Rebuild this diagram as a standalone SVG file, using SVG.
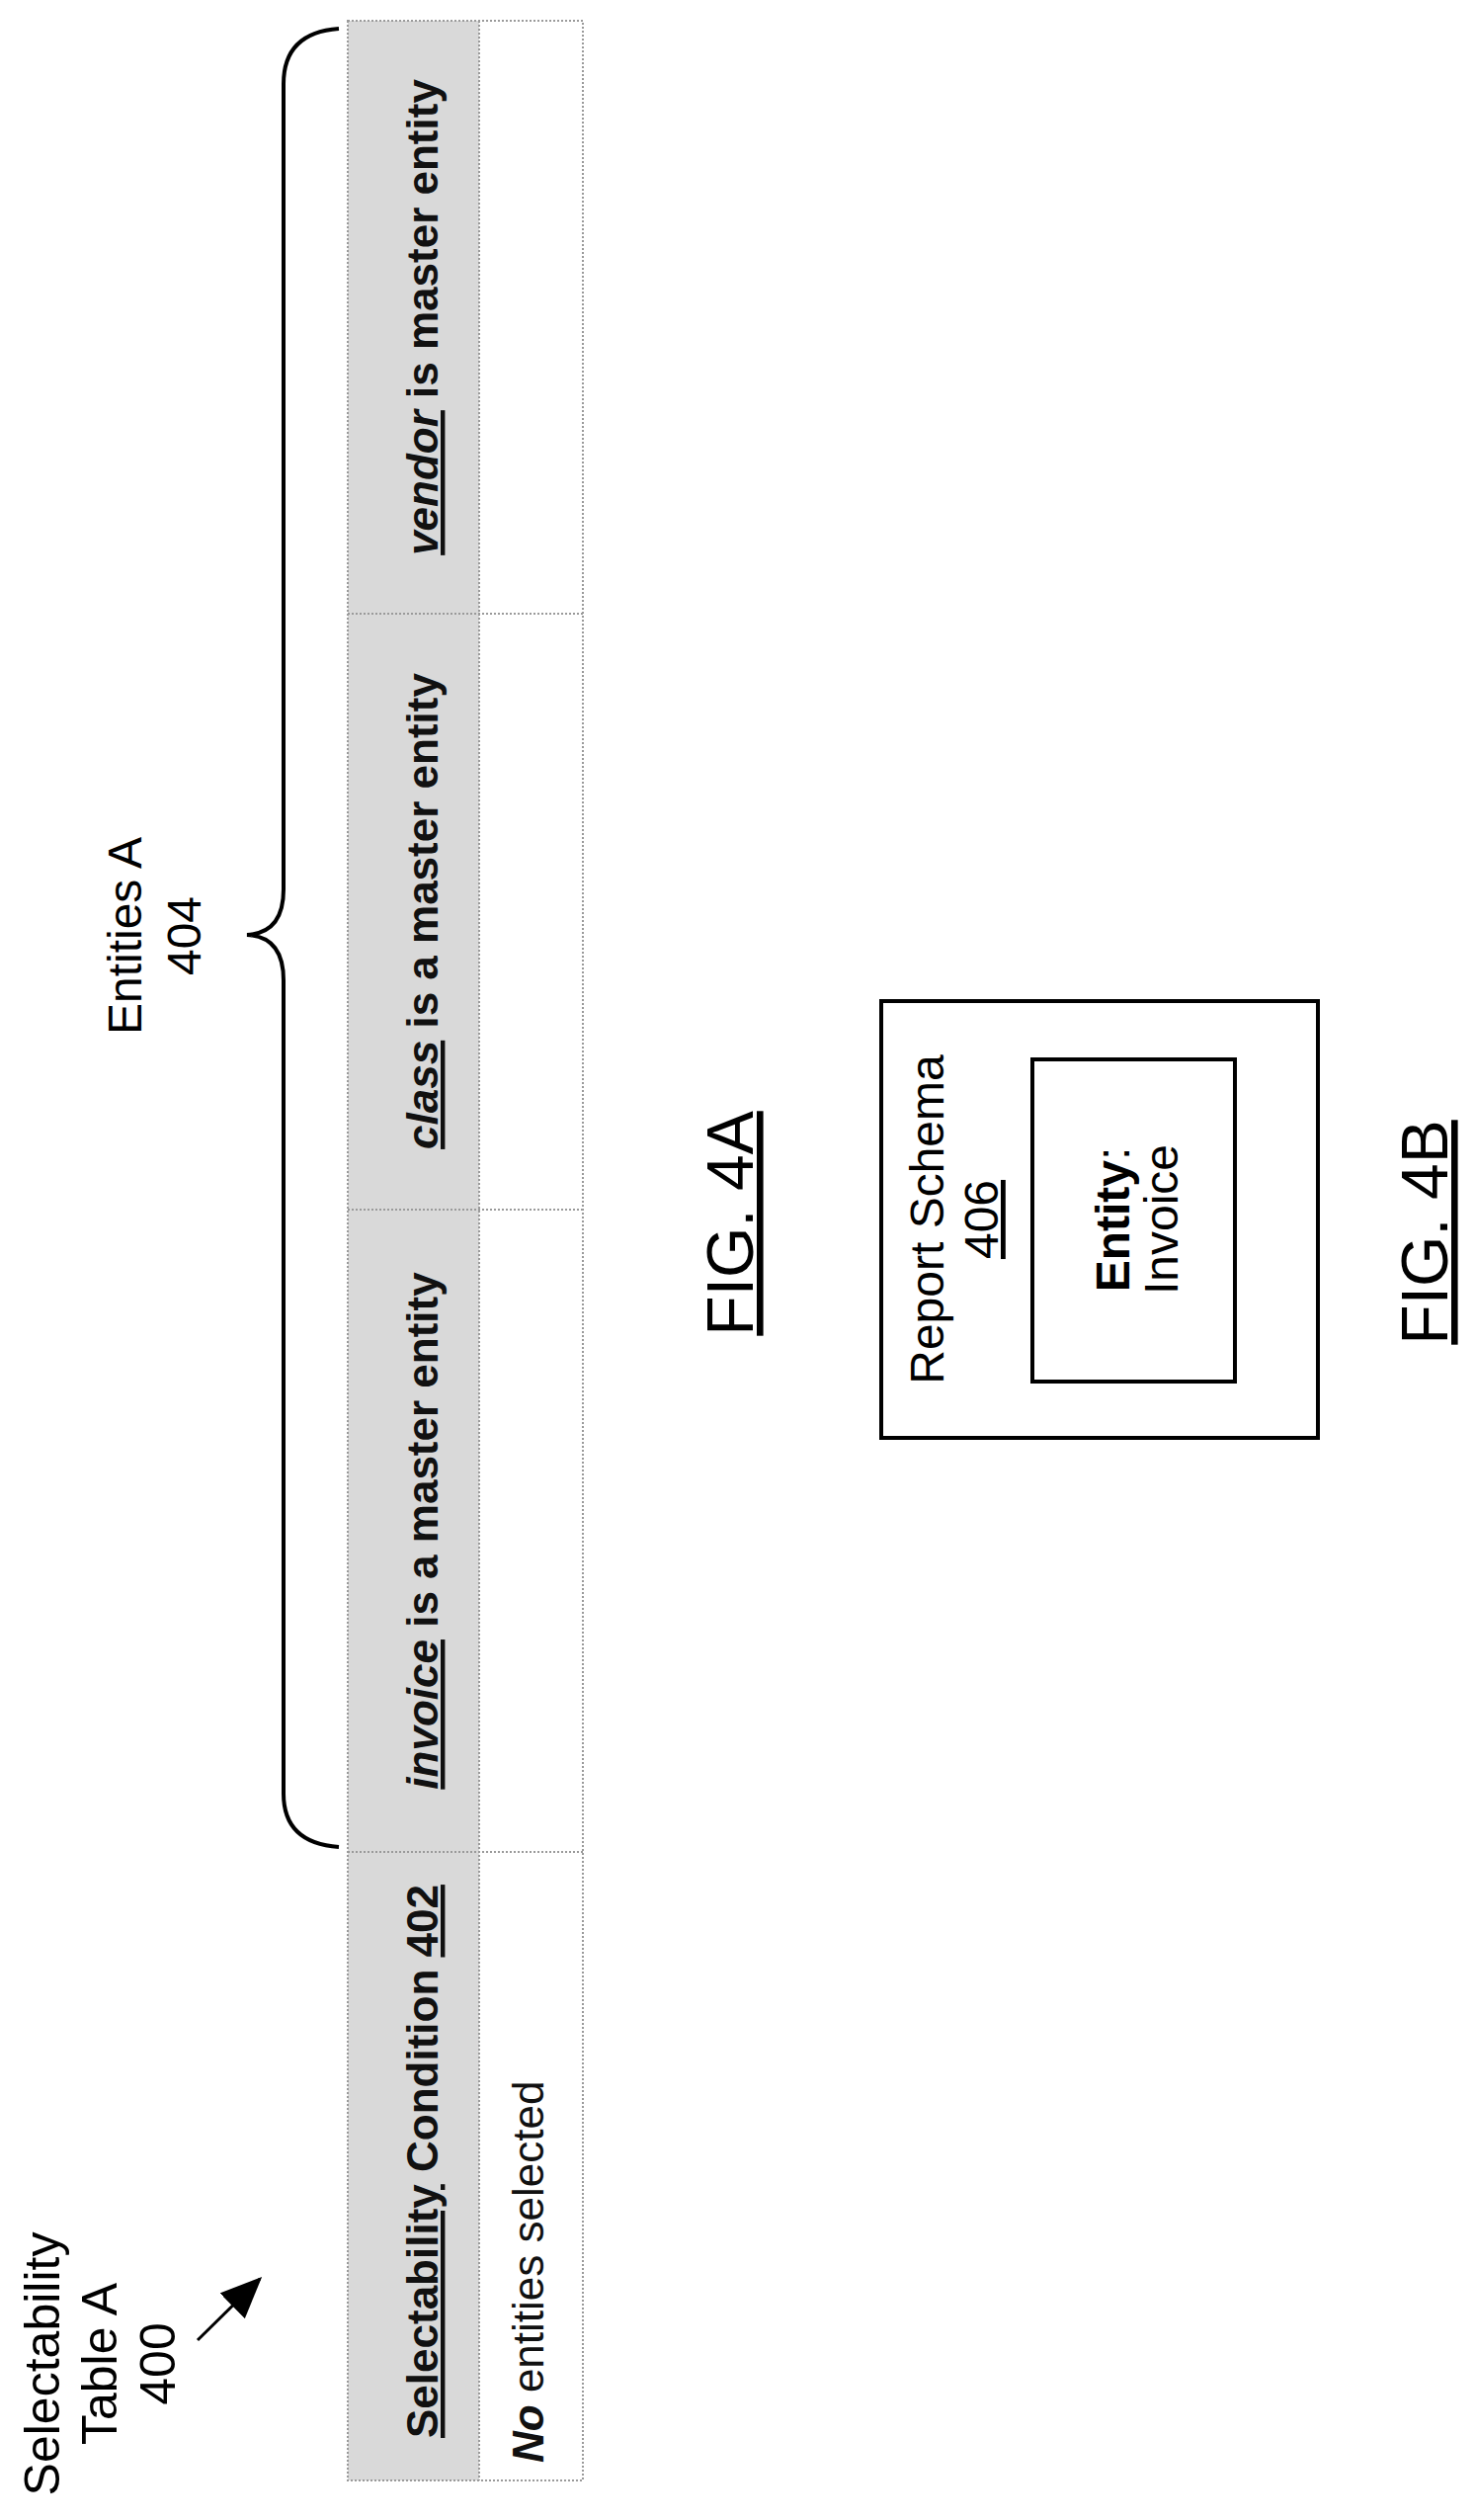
<svg xmlns="http://www.w3.org/2000/svg" width="1493" height="2550" viewBox="0 0 1493 2550">
<style>
.t{font-family:"Liberation Sans",Arial,sans-serif;fill:#000}
.cell{font-family:"Liberation Sans",Arial,sans-serif;font-size:44px;fill:#111}
.b{font-weight:bold}
.u{text-decoration:underline}
.grid{stroke:#9a9a9a;stroke-width:2;stroke-dasharray:2 2;fill:none}
.box{fill:none;stroke:#000;stroke-width:4}
</style>
<defs>
<marker id="ah" markerWidth="14" markerHeight="12" refX="13" refY="6" orient="auto" markerUnits="strokeWidth">
<path d="M0,0 L14,6 L0,12 Z" fill="#000"/>
</marker>
</defs>
<rect width="1493" height="2550" fill="#fff"/>

<g id="table400">
<rect x="352" y="21" width="133" height="2489" fill="#d9d9d9"/>
<rect x="352" y="21" width="238" height="2489" class="grid"/>
<line x1="485" y1="21" x2="485" y2="2510" class="grid"/>
<line x1="352" y1="621" x2="590" y2="621" class="grid"/>
<line x1="352" y1="1224" x2="590" y2="1224" class="grid"/>
<line x1="352" y1="1874" x2="590" y2="1874" class="grid"/>
<text class="cell b" transform="translate(443,2467) rotate(-90)"><tspan class="u">Selectability</tspan> Condition <tspan class="u">402</tspan></text>
<text class="cell" transform="translate(550,2492) rotate(-90)"><tspan class="b" font-style="italic">No</tspan> entities selected</text>
<text class="cell b" text-anchor="middle" transform="translate(443,1549) rotate(-90)"><tspan class="u" font-style="italic">invoice</tspan> is a master entity</text>
<text class="cell b" text-anchor="middle" transform="translate(443,922) rotate(-90)"><tspan class="u" font-style="italic">class</tspan> is a master entity</text>
<text class="cell b" text-anchor="middle" transform="translate(443,321) rotate(-90)"><tspan class="u" font-style="italic">vendor</tspan> is master entity</text>
</g>

<g id="label400">
<text class="t" font-size="50" text-anchor="middle" transform="translate(60,2392) rotate(-90)">Selectability</text>
<text class="t" font-size="50" text-anchor="middle" transform="translate(118,2392) rotate(-90)">Table A</text>
<text class="t" font-size="50" text-anchor="middle" transform="translate(177,2392) rotate(-90)">400</text>
</g>

<g id="entities404">
<text class="t" font-size="48" text-anchor="middle" transform="translate(143,947) rotate(-90)">Entities A</text>
<text class="t" font-size="48" text-anchor="middle" transform="translate(203,947) rotate(-90)">404</text>
</g>

<g id="connectors">
<line x1="200" y1="2368" x2="263" y2="2306" stroke="#000" stroke-width="3" marker-end="url(#ah)"/>
<path d="M343,29 Q287,33 287,85 L287,900 Q287,944 250,946 Q287,948 287,992 L287,1815 Q287,1865 343,1869" fill="none" stroke="#000" stroke-width="4"/>
</g>

<g id="fig4a">
<text class="t u" font-size="66" text-anchor="middle" transform="translate(762,1238) rotate(-90)">FIG. 4A</text>
</g>

<g id="schema406">
<rect x="892" y="1013" width="442" height="442" class="box"/>
<text class="t" font-size="48" text-anchor="middle" transform="translate(955,1234) rotate(-90)">Report Schema</text>
<text class="t u" font-size="48" text-anchor="middle" transform="translate(1010,1234) rotate(-90)">406</text>
</g>

<g id="entityInvoice">
<rect x="1045" y="1072" width="205" height="326" class="box"/>
<text class="t" font-size="48" text-anchor="middle" transform="translate(1143,1234) rotate(-90)"><tspan font-weight="bold">Entity</tspan>:</text>
<text class="t" font-size="48" text-anchor="middle" transform="translate(1192,1234) rotate(-90)">Invoice</text>
</g>

<g id="fig4b">
<text class="t u" font-size="66" text-anchor="middle" transform="translate(1465,1247) rotate(-90)">FIG. 4B</text>
</g>
</svg>
